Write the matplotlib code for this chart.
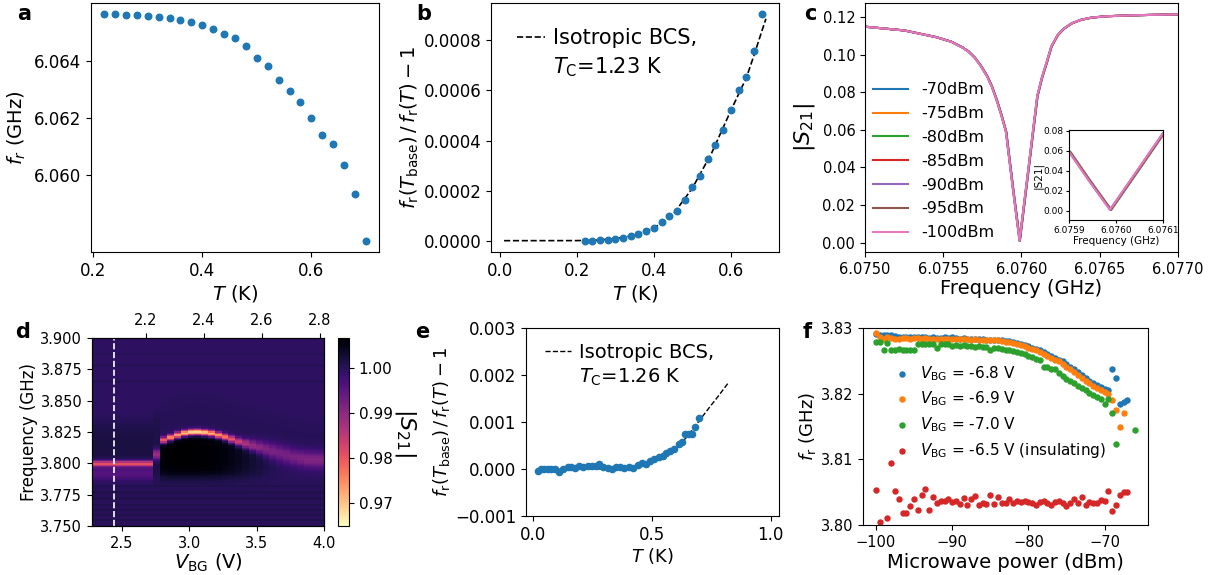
import numpy as np
import matplotlib
matplotlib.use('Agg')
import matplotlib.pyplot as plt
from matplotlib.lines import Line2D
from matplotlib.ticker import FormatStrFormatter

# ---- panel a: resonance frequency vs temperature
a_temp = [0.22, 0.24, 0.26, 0.28, 0.30, 0.32, 0.34, 0.36, 0.38, 0.40, 0.42, 0.44, 0.46,
          0.48, 0.50, 0.52, 0.54, 0.56, 0.58, 0.60, 0.62, 0.64, 0.66, 0.68, 0.70]
a_freq = [6.06561, 6.06561, 6.06560, 6.06558, 6.06556, 6.06553, 6.06548, 6.06542, 6.06533,
          6.06524, 6.06510, 6.06494, 6.06479, 6.06449, 6.06410, 6.06380, 6.06333, 6.06295,
          6.06254, 6.06200, 6.06142, 6.06108, 6.06036, 6.05935, 6.05772]

# ---- panel b: fractional shift + BCS fit
b_temp = [0.22, 0.24, 0.26, 0.28, 0.30, 0.32, 0.34, 0.36, 0.38, 0.40, 0.42, 0.44,
          0.46, 0.48, 0.50, 0.52, 0.54, 0.56, 0.58, 0.60, 0.62, 0.64, 0.66, 0.68]
b_shift = [0.0, 0.0, 0.0000013, 0.000004, 0.0000066, 0.000012, 0.0000173, 0.0000252,
           0.0000399, 0.0000505, 0.0000731, 0.000097, 0.000118, 0.000161, 0.000215,
           0.000259, 0.000327, 0.000384, 0.000441, 0.000521, 0.000603, 0.000652,
           0.000757, 0.000904]
b_fit_temp = [0.011, 0.2, 0.25, 0.3, 0.35, 0.4, 0.45, 0.5, 0.55, 0.6, 0.64, 0.66, 0.68, 0.691]
b_fit = [0.0, 0.0000003, 0.000002, 0.000008, 0.000022, 0.00005, 0.000105, 0.00021,
         0.00035, 0.00052, 0.00065, 0.00074, 0.000835, 0.000886]

# ---- panel c: |S21| traces for several powers
c_powers = ['-70dBm', '-75dBm', '-80dBm', '-85dBm', '-90dBm', '-95dBm', '-100dBm']
c_shift = [3e-6, 2.5e-6, 2e-6, 1.5e-6, 1e-6, 0.5e-6, 0.0]
c_freq = [6.07500, 6.07525, 6.07545, 6.07555, 6.07562, 6.07566, 6.07570, 6.07574,
          6.07578, 6.07581, 6.07584, 6.07587, 6.07590, 6.075944, 6.075987, 6.07604,
          6.07610, 6.07613, 6.07616, 6.07619, 6.07623, 6.07627, 6.07632, 6.07638,
          6.07645, 6.07655, 6.07672, 6.07700]
c_s21 = [0.1150, 0.1130, 0.1095, 0.1070, 0.1040, 0.1018, 0.0985, 0.0940,
         0.0885, 0.0830, 0.0760, 0.0680, 0.0590, 0.0290, 0.0010, 0.0370,
         0.0780, 0.0880, 0.0960, 0.1045, 0.1105, 0.1140, 0.1168, 0.1187,
         0.1199, 0.1206, 0.1211, 0.1216]

# ---- panel d: |S21| map vs gate voltage (per-column resonance readings)
d_vbg_lim = (2.28, 4.0)
d_freq_lim = (3.75, 3.90)
d_f0 = [3.7995, 3.7995, 3.7995, 3.7995, 3.7995, 3.7995, 3.7995, 3.7995, 3.7995,
        3.8070, 3.8185, 3.8205, 3.8225, 3.8240, 3.8248, 3.8250, 3.8245, 3.8238,
        3.8225, 3.8210, 3.8192, 3.8172, 3.8155, 3.8140, 3.8125, 3.8110, 3.8095,
        3.8080, 3.8065, 3.8050, 3.8040, 3.8032, 3.8028, 3.8026]
d_dip = [0.980, 0.980, 0.980, 0.980, 0.980, 0.980, 0.980, 0.980, 0.980,
         0.988, 0.978, 0.974, 0.972, 0.970, 0.968, 0.9675, 0.969, 0.971,
         0.973, 0.976, 0.979, 0.983, 0.986, 0.9885, 0.990, 0.991, 0.9915,
         0.992, 0.992, 0.992, 0.9915, 0.991, 0.991, 0.991]
d_width = [0.0024, 0.0024, 0.0024, 0.0024, 0.0024, 0.0024, 0.0024, 0.0024, 0.0024,
           0.004, 0.0024, 0.0024, 0.0024, 0.0024, 0.0024, 0.0024, 0.0024, 0.0024,
           0.0024, 0.0026, 0.0028, 0.0032, 0.0038, 0.0045, 0.0052, 0.006, 0.0065,
           0.007, 0.007, 0.007, 0.007, 0.007, 0.007, 0.007]
d_black = [0, 0, 0, 0, 0, 0, 0, 0, 0,
           0.002, 0.0065, 0.0072, 0.0072, 0.0072, 0.0072, 0.0072, 0.0070, 0.0068,
           0.0065, 0.006, 0.0055, 0.0048, 0.004, 0.0032, 0.0025, 0.0018, 0.0012,
           0.0008, 0.0005, 0.0004, 0.0003, 0.0003, 0.0003, 0.0003]
d_above = [0.0022, 0.0022, 0.0022, 0.0022, 0.0022, 0.0022, 0.0022, 0.0022, 0.0022,
           0.0018] + [0.0007] * 24
d_light = [0.004] * 9 + [0.0] * 25
d_base = 0.9995
d_bottom = 0.0006
d_stripes = [3.7545, 3.7585, 3.7625, 3.7665, 3.7715, 3.7765, 3.7815, 3.8655, 3.8785, 3.8875]
d_cut = 2.44

# ---- panel e: second device
e_temp = [0.021, 0.035, 0.049, 0.063, 0.077, 0.095, 0.112, 0.129, 0.147, 0.161,
          0.179, 0.196, 0.212, 0.231, 0.249, 0.266, 0.280, 0.296, 0.315, 0.333,
          0.350, 0.366, 0.385, 0.403, 0.420, 0.441, 0.459, 0.476, 0.492, 0.511,
          0.529, 0.546, 0.560, 0.578, 0.595, 0.613, 0.627, 0.641, 0.657, 0.671,
          0.681, 0.699]
e_shift = [-0.000036, 0.0, 0.000007, -0.000007, -0.000007, 0.000007, -0.000057, 0.0, 0.000036, 0.00005,
           0.000021, 0.000064, 0.00005, 0.000057, 0.000071, 0.000071, 0.0001, 0.00005, 0.000014, 0.000007,
           0.000036, 0.00005, 0.000014, 0.000036, 0.000028, 0.000085, 0.000128, 0.0001, 0.000171, 0.000206,
           0.000249, 0.000277, 0.000334, 0.000384, 0.000427, 0.000534, 0.000583, 0.00074, 0.000747, 0.00074,
           0.000903, 0.001089]
e_fit_temp = [0.02, 0.25, 0.32, 0.39, 0.4616, 0.531, 0.5875, 0.643, 0.699, 0.741, 0.78, 0.82]
e_fit = [0.0, 0.0, 0.000007, 0.000028, 0.000085, 0.000206, 0.00037, 0.000655, 0.00102,
         0.00130, 0.00155, 0.00182]

# ---- panel f: resonance vs microwave power
f_power = np.arange(-100, -65.75, 0.5)
nan = np.nan
f_m68 = [3.8291, 3.8290, 3.8289, 3.8290, 3.8290, 3.8288, 3.8287, 3.8287, 3.8286, 3.8286,
         3.8287, 3.8286, 3.8286, 3.8286, 3.8285, 3.8286, 3.8285, 3.8285, 3.8286, 3.8285,
         3.8286, 3.8285, 3.8284, 3.8285, 3.8284, 3.8284, 3.8283, 3.8283, 3.8283, 3.8282,
         3.8282, 3.8282, 3.8282, 3.8281, 3.8280, 3.8280, 3.8278, 3.8277, 3.8276, 3.8274,
         3.8272, 3.8270, 3.8268, 3.8266, 3.8264, 3.8261, 3.8258, 3.8255, 3.8252, 3.8249,
         3.8245, 3.8241, 3.8237, 3.8233, 3.8228, 3.8224, 3.8220, 3.8216, 3.8213, 3.8210,
         3.8207, 3.8205, 3.8238, 3.8224, 3.8185, 3.8188, 3.8190, nan, nan]
f_m69 = [3.8293, 3.8287, 3.8284, 3.8286, 3.8285, 3.8284, 3.8283, 3.8285, 3.8285, 3.8284,
         3.8285, 3.8285, 3.8284, 3.8285, 3.8284, 3.8284, 3.8284, 3.8283, 3.8284, 3.8284,
         3.8284, 3.8283, 3.8284, 3.8283, 3.8283, 3.8282, 3.8283, 3.8282, 3.8282, 3.8281,
         3.8282, 3.8281, 3.8281, 3.8280, 3.8279, 3.8278, 3.8277, 3.8276, 3.8274, 3.8272,
         3.8270, 3.8268, 3.8266, 3.8264, 3.8261, 3.8258, 3.8255, 3.8252, 3.8249, 3.8245,
         3.8241, 3.8237, 3.8233, 3.8229, 3.8224, 3.8220, 3.8216, 3.8212, 3.8208, 3.8205,
         3.8202, 3.8200, 3.8190, 3.8175, 3.8149, 3.8171, nan, nan, nan]
f_m70 = [3.8279, 3.8278, 3.8267, 3.8277, 3.8266, 3.8267, 3.8268, 3.8266, 3.8266, 3.8267,
         3.8266, 3.8276, 3.8276, 3.8275, 3.8275, 3.8276, 3.8269, 3.8275, 3.8276, 3.8275,
         3.8273, 3.8274, 3.8272, 3.8274, 3.8272, 3.8273, 3.8271, 3.8272, 3.8271, 3.8271,
         3.8266, 3.8270, 3.8269, 3.8268, 3.8267, 3.8266, 3.8265, 3.8263, 3.8262, 3.8260,
         3.8258, 3.8256, 3.8253, 3.8251, 3.8241, 3.8240, 3.8238, 3.8237, 3.8231, 3.8227,
         3.8223, 3.8220, 3.8216, 3.8212, 3.8208, 3.8205, 3.8201, 3.8198, 3.8195, 3.8192,
         3.8184, 3.8192, 3.8170, 3.8123, nan, nan, nan, nan, 3.8144]
f_m65 = [3.8053, 3.8004, 3.7992, 3.8011, 3.8095, 3.8052, 3.8040, 3.8019, 3.8018, 3.8029,
         3.8040, 3.8023, 3.8045, 3.8055, 3.8023, 3.8043, 3.8033, 3.8036, 3.8037, 3.8040,
         3.8035, 3.8037, 3.8032, 3.8041, 3.8030, 3.8040, 3.8044, 3.8030, 3.8033, 3.8032,
         3.8046, 3.8032, 3.8043, 3.8034, 3.8034, 3.8040, 3.8034, 3.8036, 3.8035, 3.8036,
         3.8035, 3.8033, 3.8031, 3.8035, 3.8036, 3.8034, 3.8030, 3.8035, 3.8036, 3.8033,
         3.8029, 3.8034, 3.8040, 3.8033, 3.8043, 3.8030, 3.8035, 3.8033, 3.8034, 3.8038,
         3.8037, 3.8052, 3.8022, 3.8030, 3.8046, 3.8050, 3.8050, nan, nan]
f_labels = [r'$V_\mathrm{BG}$ = -6.8 V', r'$V_\mathrm{BG}$ = -6.9 V',
            r'$V_\mathrm{BG}$ = -7.0 V', r'$V_\mathrm{BG}$ = -6.5 V (insulating)']

W, H = 1210, 575
fig = plt.figure(figsize=(W / 100, H / 100), dpi=100)


def px_axes(left, top, right, bottom):
    return fig.add_axes([left / W, 1 - bottom / H, (right - left) / W, (bottom - top) / H])


def letter(x, y, s):
    fig.text(x / W, 1 - y / H, s, fontsize=15, fontweight='bold', va='baseline')


def fit_legend(ax, line, tc_text, fs, anchor, hlen, hpad, lspace):
    # two rows: the dashed handle sits on the first line only
    blank = Line2D([], [], ls='none')
    ax.legend([line, blank], ['Isotropic BCS,', tc_text], loc='upper left', frameon=False,
              fontsize=fs, bbox_to_anchor=anchor, borderaxespad=0, borderpad=0,
              handlelength=hlen, handletextpad=hpad, labelspacing=lspace)


ratio_label = r'$f_\mathrm{r}(T_\mathrm{base})\,/\,f_\mathrm{r}(T) - 1$'

# a
ax = px_axes(91, 3, 379, 252)
ax.scatter(a_temp, a_freq, s=22, color='C0')
ax.set_xticks([0.2, 0.4, 0.6])
ax.set_yticks([6.060, 6.062, 6.064])
ax.yaxis.set_major_formatter(FormatStrFormatter('%.3f'))
ax.tick_params(labelsize=12)
ax.set_xlabel(r'$T$ (K)', fontsize=14, labelpad=2)
ax.set_ylabel(r'$f_r$ (GHz)', fontsize=14)
letter(17, 20, 'a')

# b
ax = px_axes(491, 3, 779, 252)
ln, = ax.plot(b_fit_temp, b_fit, 'k--', lw=1.2)
ax.scatter(b_temp, b_shift, s=22, color='C0', zorder=3)
ax.set_xticks([0.0, 0.2, 0.4, 0.6])
ax.set_yticks([0.0, 0.0002, 0.0004, 0.0006, 0.0008])
ax.yaxis.set_major_formatter(FormatStrFormatter('%.4f'))
ax.tick_params(labelsize=12)
ax.set_xlabel(r'$T$ (K)', fontsize=14, labelpad=2)
ax.set_ylabel(ratio_label, fontsize=14, labelpad=2)
fit_legend(ax, ln, r'$T_\mathrm{C}$=1.23 K', 15, (0.09, 0.9), 1.35, 0.38, 0.35)
letter(416, 20, 'b')

# c
ax = px_axes(865, 3, 1178, 252)
for i, lab in enumerate(c_powers):
    ax.plot(np.array(c_freq) + c_shift[i], c_s21, color='C%d' % i, lw=1.5, label=lab)
ax.set_xlim(6.075, 6.077)
ax.set_xticks([6.0750, 6.0755, 6.0760, 6.0765, 6.0770])
ax.xaxis.set_major_formatter(FormatStrFormatter('%.4f'))
ax.set_yticks([0.0, 0.02, 0.04, 0.06, 0.08, 0.10, 0.12])
ax.yaxis.set_major_formatter(FormatStrFormatter('%.2f'))
ax.tick_params(labelsize=10.5)
ax.set_xlabel('Frequency (GHz)', fontsize=14, labelpad=2)
ax.set_ylabel(r'$|S_{21}|$', fontsize=16, labelpad=4)
ax.legend(loc='lower left', frameon=False, fontsize=11.5, bbox_to_anchor=(-0.02, -0.01),
          handlelength=2.2, labelspacing=0.55)
letter(804, 20, 'c')

ins = px_axes(1069, 130, 1163, 220)
for i, lab in enumerate(c_powers):
    ins.plot(np.array(c_freq) + c_shift[i], c_s21, color='C%d' % i, lw=1.5)
ins.set_xlim(6.0759, 6.0761)
ins.set_ylim(-0.0093, 0.081)
ins.set_xticks([6.0759, 6.0760, 6.0761])
ins.xaxis.set_major_formatter(FormatStrFormatter('%.4f'))
ins.set_yticks([0.0, 0.02, 0.04, 0.06, 0.08])
ins.yaxis.set_major_formatter(FormatStrFormatter('%.2f'))
ins.tick_params(labelsize=6.5, length=2.5, pad=1.5)
ins.set_xlabel('Frequency (GHz)', fontsize=7.5, labelpad=1)
ins.set_ylabel('|S21|', fontsize=7.5, labelpad=0)

# d
ax = px_axes(92, 338, 324, 526)
d_freq = np.linspace(d_freq_lim[0], d_freq_lim[1], 151)
F = d_freq[:, None]
f0 = np.array(d_f0)[None, :]


def sig(x):
    return 1.0 / (1.0 + np.exp(-x))


img = np.full((len(d_freq), len(d_f0)), d_base)
img = img + d_bottom * sig((3.787 - F) / 0.002)
img = img + np.array(d_above)[None, :] * sig((F - (f0 + 0.004)) / 0.0015) * sig(((f0 + 0.032) - F) / 0.004)
img = img + np.array(d_black)[None, :] * sig(((f0 - 0.003) - F) / 0.0015) * sig((F - 3.789) / 0.0025)
img = img - np.array(d_light)[None, :] * np.exp(-((F - (f0 - 0.008)) / 0.005) ** 2)
img = img + (np.array(d_dip)[None, :] - d_base) * np.exp(-((F - f0) / np.array(d_width)[None, :]) ** 2)
for fs in d_stripes:
    img = img + 0.0012 * np.exp(-((F - fs) / 0.0007) ** 2)
im = ax.imshow(img, origin='lower', aspect='auto', cmap='magma_r', vmin=0.9648, vmax=1.0067,
               extent=[d_vbg_lim[0], d_vbg_lim[1], d_freq_lim[0], d_freq_lim[1]],
               interpolation='nearest')
ax.axvline(d_cut, color='white', ls='--', lw=1.2)
ax.set_xlim(*d_vbg_lim)
ax.set_ylim(*d_freq_lim)
ax.set_xticks([2.5, 3.0, 3.5, 4.0])
ax.set_yticks([3.750, 3.775, 3.800, 3.825, 3.850, 3.875, 3.900])
ax.yaxis.set_major_formatter(FormatStrFormatter('%.3f'))
ax.tick_params(labelsize=10.5)
ax.set_xlabel(r'$V_\mathrm{BG}$ (V)', fontsize=14, labelpad=1)
ax.set_ylabel('Frequency (GHz)', fontsize=12, labelpad=2)
top = ax.twiny()
top.set_xlim(2.014, 2.814)
top.set_xticks([2.2, 2.4, 2.6, 2.8])
top.xaxis.set_major_formatter(FormatStrFormatter('%.1f'))
top.tick_params(labelsize=10.5)
cax = px_axes(338, 338, 349, 526)
cb = fig.colorbar(im, cax=cax)
cb.set_ticks([0.97, 0.98, 0.99, 1.00])
cb.ax.yaxis.set_major_formatter(FormatStrFormatter('%.2f'))
cb.ax.tick_params(labelsize=11)
cb.set_label(r'$|S_{21}|$', fontsize=16, rotation=270, labelpad=18)
letter(15, 338, 'd')

# e
ax = px_axes(526, 328, 779, 516)
ln, = ax.plot(e_fit_temp, e_fit, 'k--', lw=1.0)
ax.scatter(e_temp, e_shift, s=20, color='C0', zorder=3)
ax.set_xlim(-0.028, 1.035)
ax.set_ylim(-0.001, 0.003)
ax.set_xticks([0.0, 0.5, 1.0])
ax.set_yticks([-0.001, 0.0, 0.001, 0.002, 0.003])
ax.tick_params(labelsize=12)
ax.set_xlabel(r'$T$ (K)', fontsize=13, labelpad=2)
ax.set_ylabel(ratio_label, fontsize=13, labelpad=2)
fit_legend(ax, ln, r'$T_\mathrm{C}$=1.26 K', 14, (0.075, 0.92), 1.34, 0.41, 0.25)
letter(415, 338, 'e')

# f
ax = px_axes(863, 328, 1148, 525)
for i, ser in enumerate([f_m68, f_m69, f_m70, f_m65]):
    ax.scatter(f_power, ser, s=13, color='C%d' % i, label=f_labels[i])
ax.set_ylim(3.80, 3.83)
ax.set_yticks([3.80, 3.81, 3.82, 3.83])
ax.yaxis.set_major_formatter(FormatStrFormatter('%.2f'))
ax.set_xticks([-100, -90, -80, -70])
ax.tick_params(labelsize=10.5)
ax.set_xlabel('Microwave power (dBm)', fontsize=14, labelpad=2)
ax.set_ylabel(r'$f_\mathrm{r}$ (GHz)', fontsize=13, labelpad=2)
ax.legend(loc='center left', frameon=False, fontsize=11, bbox_to_anchor=(0.035, 0.575),
          handletextpad=0.2, labelspacing=0.45, scatterpoints=1)
letter(803, 338, 'f')

fig.savefig('out.png', dpi=100)
